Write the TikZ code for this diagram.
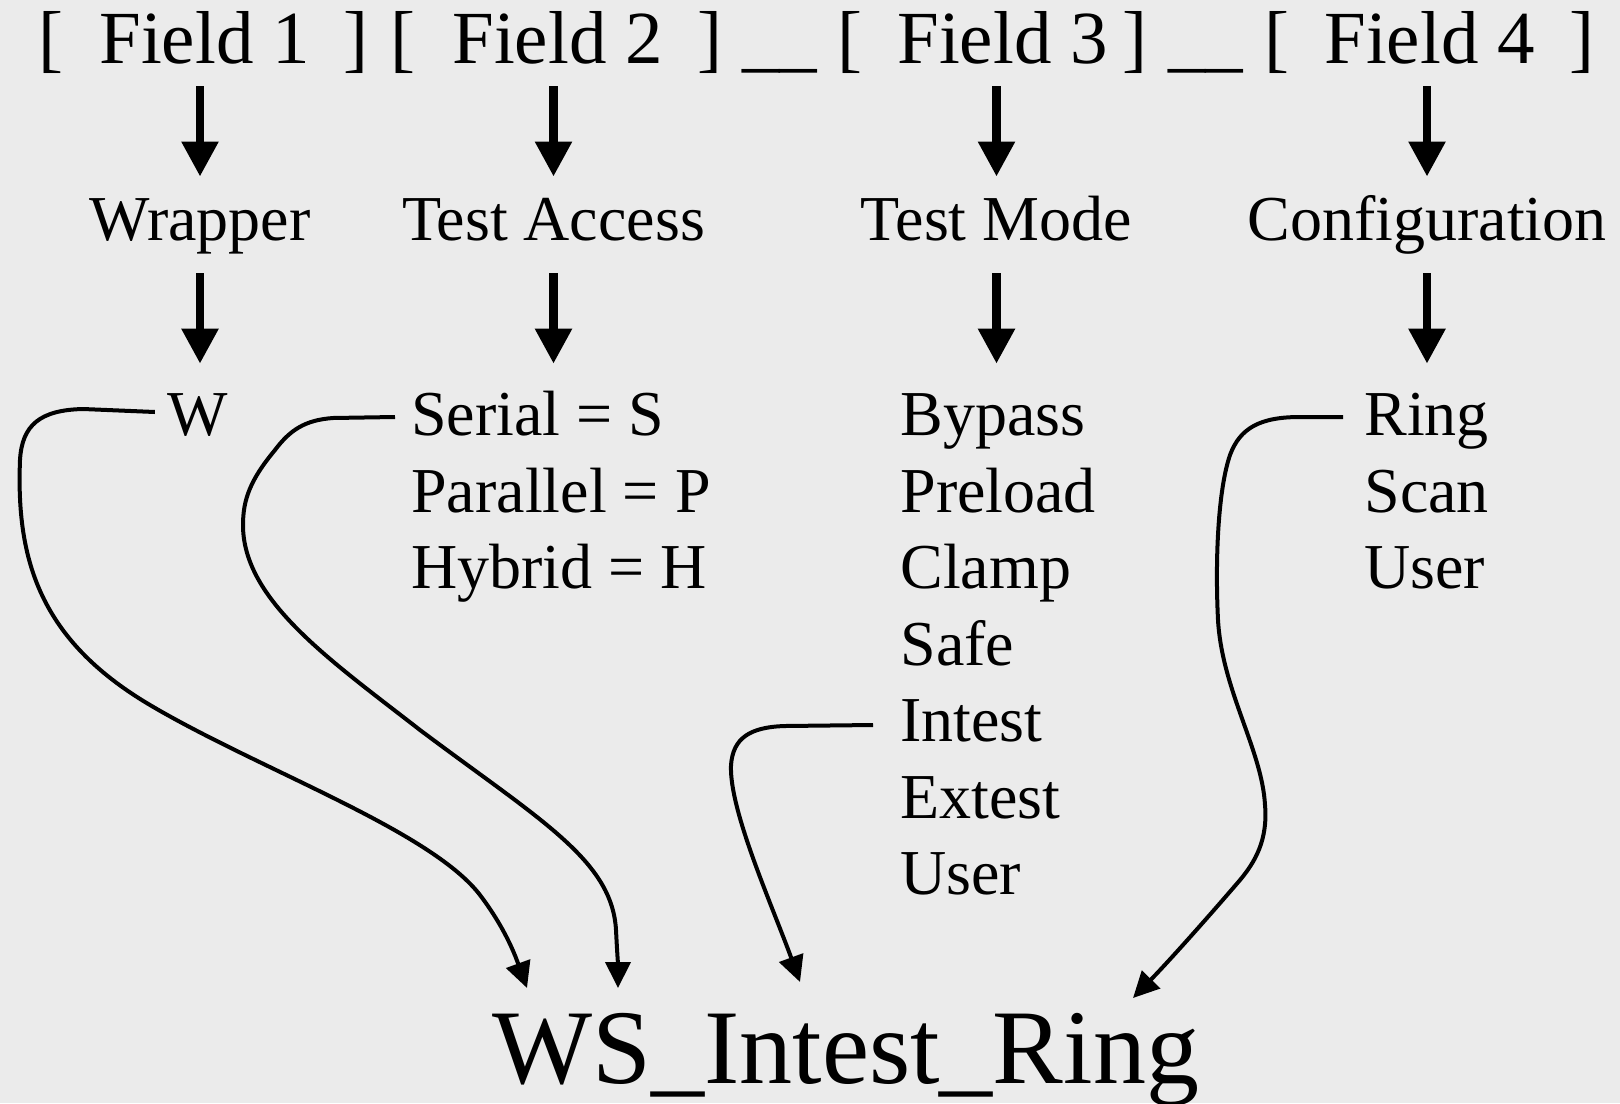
\documentclass[tikz,border=0pt]{standalone}
\usepackage{fontspec}
\setmainfont{Liberation Serif}
\usetikzlibrary{arrows.meta,calc}
\definecolor{bg}{RGB}{235,235,235}
\tikzset{
  fieldtxt/.style={font=\fontsize{37.5pt}{45pt}\selectfont, inner sep=0pt, text height=26.25pt, text depth=0pt},
  midtxt/.style={font=\fontsize{32pt}{38pt}\selectfont, inner sep=0pt, text height=22.4pt, text depth=8pt},
  itemtxt/.style={midtxt, anchor=base west},
  bigarrow/.style={line width=4.2pt, -{Triangle[length=17.5pt,width=17.5pt]}},
  curvearrow/.style={line width=2pt, -{Triangle[length=13pt,width=12.5pt]}},
}
\begin{document}
\begin{tikzpicture}[x=0.5pt,y=-0.5pt]
\fill[bg] (0,0) rectangle (1620,1103);
\useasboundingbox (0,0) rectangle (1620,1103);
% top row
\node[fieldtxt, anchor=base] (b1) at (50.5,63) {[};
\node[fieldtxt, anchor=base west] (f1) at (99,63) {Field 1};
\node[fieldtxt, anchor=base] (b2) at (355.5,63) {]};
\node[fieldtxt, anchor=base] (b3) at (402.5,63) {[};
\node[fieldtxt, anchor=base west] (f2) at (452,63) {Field 2};
\node[fieldtxt, anchor=base] (b4) at (710,63) {]};
\node[fieldtxt, anchor=base] (u1) at (779.5,63) {\_\_};
\node[fieldtxt, anchor=base] (b5) at (849.5,63) {[};
\node[fieldtxt, anchor=base west] (f3) at (897,63) {Field 3};
\node[fieldtxt, anchor=base] (b6) at (1135,63) {]};
\node[fieldtxt, anchor=base] (u2) at (1205.5,63) {\_\_};
\node[fieldtxt, anchor=base] (b7) at (1276.5,63) {[};
\node[fieldtxt, anchor=base west] (f4) at (1324,63) {Field 4};
\node[fieldtxt, anchor=base] (b8) at (1581.5,63) {]};
% middle row
\node[midtxt, anchor=base] (wrap) at (200,240) {Wrapper};
\node[midtxt, anchor=base] (ta) at (553.5,240) {Test Access};
\node[midtxt, anchor=base] (tm) at (996.5,240) {Test Mode};
\node[midtxt, anchor=base] (cf) at (1427,240) {Configuration};
% lists
\node[midtxt, anchor=base] (w) at (197.5,435.5) {W};
\node[itemtxt] (s1) at (411,435.5) {Serial = S};
\node[itemtxt] (s2) at (411,512) {Parallel = P};
\node[itemtxt] (s3) at (411,588.5) {Hybrid = H};
\node[itemtxt] (m1) at (900,435.5) {Bypass};
\node[itemtxt] (m2) at (900,512) {Preload};
\node[itemtxt] (m3) at (900,588.5) {Clamp};
\node[itemtxt] (m4) at (900,665) {Safe};
\node[itemtxt] (m5) at (900,741.5) {Intest};
\node[itemtxt] (m6) at (900,818) {Extest};
\node[itemtxt] (m7) at (900,894.5) {User};
\node[itemtxt] (c1) at (1364,435.5) {Ring};
\node[itemtxt] (c2) at (1364,512) {Scan};
\node[itemtxt] (c3) at (1364,588.5) {User};
% title
\node[anchor=base west, font=\fontsize{53pt}{60pt}\selectfont, inner sep=0pt] (title) at (492,1083) {WS\_Intest\_Ring};
\coordinate (t1) at (527,988);
\coordinate (t2) at (618,988);
\coordinate (t3) at (800,982);
\coordinate (t4) at (1133,998);
% straight arrows
\draw[bigarrow, shorten <=11.5pt, shorten >=9.1pt] (f1.south -| wrap) -- (wrap.north);
\draw[bigarrow, shorten <=11.5pt, shorten >=9.1pt] (f2.south -| ta) -- (ta.north);
\draw[bigarrow, shorten <=11.5pt, shorten >=9.1pt] (f3.south -| tm) -- (tm.north);
\draw[bigarrow, shorten <=11.5pt, shorten >=9.1pt] (f4.south -| cf) -- (cf.north);
\draw[bigarrow, shorten <=8.5pt, shorten >=13.3pt] (wrap.south) -- (wrap.south |- w.north);
\draw[bigarrow, shorten <=8.5pt, shorten >=13.3pt] (ta.south) -- (ta.south |- s1.north);
\draw[bigarrow, shorten <=8.5pt, shorten >=13.3pt] (tm.south) -- (tm.south |- m1.north);
\draw[bigarrow, shorten <=8.5pt, shorten >=13.3pt] (cf.south) -- (cf.south |- c1.north);
% curved connectors
\draw[curvearrow] ($(w.base west)+(-12,-23.5)$) -- (83,409)
  .. controls (40,410) and (22,425) .. (20,460)
  .. controls (16,560) and (40,640) .. (150,705)
  .. controls (260,770) and (430,830) .. (480,895)
  .. controls (505,928) and (515,955) .. (t1);
\draw[curvearrow] ($(s1.base west)+(-16,-18.5)$) -- (333,418)
  .. controls (305,420) and (290,430) .. (275,450)
  .. controls (250,480) and (243,500) .. (243,525)
  .. controls (243,600) and (330,660) .. (420,730)
  .. controls (540,820) and (612,860) .. (616,930)
  .. controls (617,950) and (618,965) .. (t2);
\draw[curvearrow] ($(m5.base west)+(-27,-16.5)$) -- (785,726)
  .. controls (750,727) and (733,738) .. (731,765)
  .. controls (729,810) and (772,905) .. (t3);
\draw[curvearrow] ($(c1.base west)+(-21,-18.5)$) -- (1300,417)
  .. controls (1260,417) and (1240,428) .. (1230,455)
  .. controls (1218,490) and (1215,560) .. (1218,620)
  .. controls (1222,690) and (1262,750) .. (1265,805)
  .. controls (1268,840) and (1255,862) .. (1240,880)
  .. controls (1210,915) and (1170,960) .. (t4);
\end{tikzpicture}
\end{document}
